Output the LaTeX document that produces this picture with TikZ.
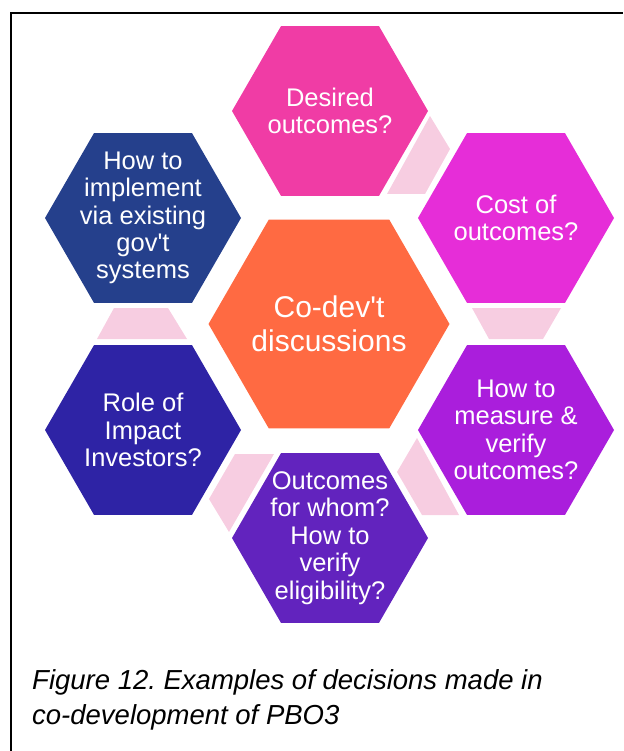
\documentclass[tikz,border=0pt]{standalone}
\usepackage{fontspec}
\setmainfont{Liberation Sans}
\usepackage{tikz}
\usetikzlibrary{shapes.geometric}
\frenchspacing

\definecolor{hexrose}{HTML}{F03CA5}
\definecolor{hexmagenta}{HTML}{E62DD8}
\definecolor{hexviolet}{HTML}{AA1EDC}
\definecolor{hexpurple}{HTML}{6223BE}
\definecolor{hexindigo}{HTML}{2E23A5}
\definecolor{hexnavy}{HTML}{25408C}
\definecolor{hexorange}{HTML}{FF6A42}
\definecolor{linkpink}{HTML}{F7CDE1}

\begin{document}
\begin{tikzpicture}[x=1pt,y=-1pt,
    hexa/.style={regular polygon,regular polygon sides=6,minimum size=196pt,inner sep=0pt,outer sep=0pt,fill=#1},
    hextext/.style={text=white,align=center,inner sep=0pt,font=\fontsize{25.5}{27.4}\selectfont},
    link/.style={fill=linkpink}]
                 \useasboundingbox (0,0) rectangle (623,751);
                 \draw[line width=2pt] (11,751) |- (623,13);
                 % ring of hexagons
                 \node[hexa=hexrose](desired)at(330,111){};
                 \node[hexa=hexmagenta](cost)at(516,218){};
                 \node[hexa=hexviolet](measure)at(516,430){};
                 \node[hexa=hexpurple](whom)at(330,538){};
                 \node[hexa=hexindigo](investors)at(143,430){};
                 \node[hexa=hexnavy](implement)at(143,218){};
                 \node[hexa=hexorange,minimum size=241pt](codev)at(329,324){};
                 % links between neighbours
                 \fill[link] (387,194) -- (430,116) -- (450,149) -- (425,194) -- cycle;
                 \fill[link] (472,308) -- (561,308) -- (543,339) -- (489,339) -- cycle;
                 \fill[link] (417,438) -- (397,472) -- (422,515) -- (459,515) -- cycle;
                 \fill[link] (235,454) -- (274,454) -- (229,532) -- (209,499) -- cycle;
                 \fill[link] (114,308) -- (168,308) -- (187,339) -- (97,339) -- cycle;
                 % texts
                 \node[hextext](desired-t)at(desired){Desired\\outcomes?};
                 \node[hextext](cost-t)at(cost){Cost of\\outcomes?};
                 \node[hextext](measure-t)at(measure){How to\\measure \&\\verify\\outcomes?};
                 \node[hextext](whom-t)at(whom){Outcomes\\for whom?\\How to\\verify\\eligibility?};
                 \node[hextext](investors-t)at(investors){Role of\\Impact\\Investors?};
                 \node[hextext](implement-t)at(implement){How to\\implement\\via existing\\gov\textquotesingle t\\systems};
                 \node[hextext,font=\fontsize{30}{33.5}\selectfont](codev-t)at(codev){Co-dev\textquotesingle t\\discussions};
                 % caption
                 \node[anchor=base west,inner sep=0pt,font=\fontsize{27.5}{34}\selectfont\itshape](cap1)at(32,689){Figure 12. Examples of decisions made in};
                 \node[anchor=base west,inner sep=0pt,font=\fontsize{27.5}{34}\selectfont\itshape](cap2)at(32,724){co-development of PBO3};
               \end{tikzpicture}
\end{document}
